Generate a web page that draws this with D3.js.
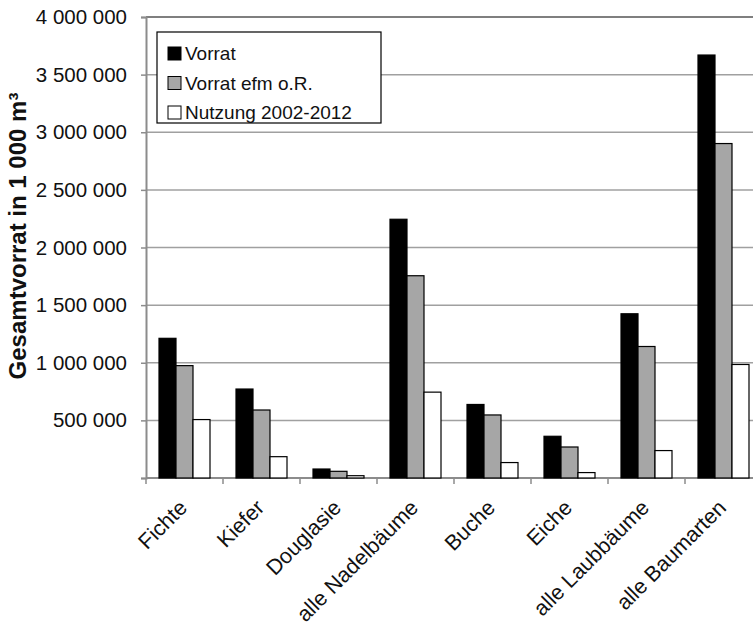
<!DOCTYPE html>
<html>
<head>
<meta charset="utf-8">
<script src="https://cdn.jsdelivr.net/npm/d3@7/dist/d3.min.js"></script>
<style>
  html, body { margin: 0; padding: 0; background: #fff; overflow: hidden; }
  svg { display: block; font-family: "Liberation Sans", Arial, sans-serif; }
</style>
</head>
<body>
<div id="chart"></div>
<script>
// Holzvorrat / Nutzung nach Baumarten (in 1 000 m³)
const categories = ['Fichte', 'Kiefer', 'Douglasie', 'alle Nadelbäume', 'Buche', 'Eiche', 'alle Laubbäume', 'alle Baumarten'];
const seriesNames = ['Vorrat', 'Vorrat efm o.R.', 'Nutzung 2002-2012'];
const vorrat = [1212000, 772000, 78000, 2245000, 638000, 362000, 1425000, 3670000];
const vorratEfm = [975000, 590000, 58000, 1755000, 547000, 269000, 1141000, 2902000];
const nutzung = [507000, 185000, 20000, 745000, 134000, 47000, 238000, 985000];
const yTicks = [500000, 1000000, 1500000, 2000000, 2500000, 3000000, 3500000, 4000000];

const COLORS = ['#000000', '#a6a6a6', '#ffffff'];

const width = 753, height = 627;
const margin = { top: 17, left: 146, bottom: 149 };
const plotRight = 762; // the original is cropped on the right
const innerH = height - margin.top - margin.bottom;

const svg = d3.select('#chart').append('svg')
    .attr('width', width).attr('height', height);

const x = d3.scaleBand().domain(categories).range([margin.left, plotRight]).paddingInner(0).paddingOuter(0);
const x1 = d3.scaleBand().domain(d3.range(3)).range([13, x.bandwidth() - 13]);
const y = d3.scaleLinear().domain([0, 4000000]).range([margin.top + innerH, margin.top]);

const fmt = (v) => d3.format(',')(v).replace(/,/g, ' ');

// gridlines
svg.append('g').selectAll('line')
    .data(yTicks.slice(0, -1))
    .enter().append('line')
    .attr('x1', margin.left).attr('x2', plotRight)
    .attr('y1', (d) => y(d)).attr('y2', (d) => y(d))
    .attr('stroke', '#a0a0a0').attr('stroke-width', 1.5);

// plot border top
svg.append('line')
    .attr('x1', margin.left).attr('x2', plotRight)
    .attr('y1', y(4000000)).attr('y2', y(4000000))
    .attr('stroke', '#000').attr('stroke-width', 1.2);

// y axis
const yAxis = svg.append('g')
    .attr('transform', `translate(${margin.left},0)`)
    .call(d3.axisLeft(y).tickValues([0].concat(yTicks)).tickSize(5).tickPadding(14)
        .tickFormat((d) => d === 0 ? '' : fmt(d)));
yAxis.select('.domain').attr('stroke', '#8c8c8c').attr('stroke-width', 2);
yAxis.selectAll('.tick line').attr('stroke', '#8c8c8c').attr('stroke-width', 1.5);
yAxis.selectAll('.tick text')
    .attr('font-size', 20.5).attr('fill', '#111')
    .attr('font-family', '"Liberation Sans", Arial, sans-serif');

// x axis
const xTickPos = categories.map((c) => x(c));
const xAxis = svg.append('g');
xAxis.append('line')
    .attr('x1', margin.left).attr('x2', plotRight)
    .attr('y1', y(0)).attr('y2', y(0))
    .attr('stroke', '#8c8c8c').attr('stroke-width', 2);
xAxis.selectAll('line.tick')
    .data(xTickPos)
    .enter().append('line').attr('class', 'tick')
    .attr('x1', (d) => d).attr('x2', (d) => d)
    .attr('y1', y(0)).attr('y2', y(0) + 6)
    .attr('stroke', '#8c8c8c').attr('stroke-width', 1.5);
xAxis.selectAll('text')
    .data(categories)
    .enter().append('text')
    .attr('transform', (d) => `translate(${x(d) + x.bandwidth() / 2 + 4},${y(0) + 31}) rotate(-45)`)
    .attr('text-anchor', 'end')
    .attr('font-size', 21.5).attr('fill', '#111')
    .text((d) => d);

// bars
const series = [vorrat, vorratEfm, nutzung];
const groups = svg.append('g').selectAll('g')
    .data(categories)
    .enter().append('g')
    .attr('transform', (d) => `translate(${x(d)},0)`);
groups.selectAll('rect')
    .data((d, i) => series.map((s, k) => ({ k, v: s[i] })))
    .enter().append('rect')
    .attr('x', (d) => x1(d.k))
    .attr('y', (d) => y(d.v))
    .attr('width', x1.bandwidth())
    .attr('height', (d) => y(0) - y(d.v))
    .attr('fill', (d) => COLORS[d.k])
    .attr('stroke', '#000').attr('stroke-width', 1.2);

// y title
svg.append('text')
    .attr('transform', `translate(26,236) rotate(-90)`)
    .attr('text-anchor', 'middle')
    .attr('font-size', 24).attr('font-weight', 'bold').attr('fill', '#111')
    .text('Gesamtvorrat in 1 000 m³');

// legend
const legend = svg.append('g').attr('transform', 'translate(157,32)');
legend.append('rect')
    .attr('width', 224).attr('height', 91)
    .attr('fill', '#fff').attr('stroke', '#000').attr('stroke-width', 1.2);
const items = legend.selectAll('g.item')
    .data(seriesNames)
    .enter().append('g').attr('class', 'item')
    .attr('transform', (d, i) => `translate(11,${15 + i * 29.5})`);
items.append('rect')
    .attr('width', 13).attr('height', 13)
    .attr('fill', (d, i) => COLORS[i])
    .attr('stroke', '#000').attr('stroke-width', 1);
items.append('text')
    .attr('x', 17).attr('y', 13)
    .attr('font-size', 19).attr('fill', '#111')
    .text((d) => d);
</script>
</body>
</html>
